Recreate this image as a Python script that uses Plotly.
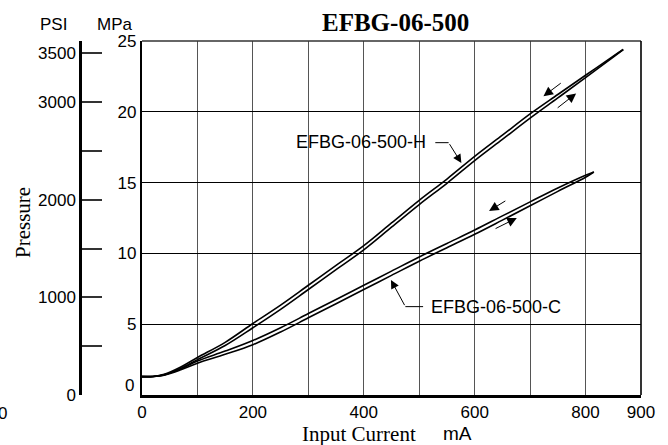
import plotly.graph_objects as go

# ---------------- data ----------------
current_H = [0, 20, 40, 70, 100, 150, 200, 250, 300, 350, 400, 450, 500, 550, 600,
             650, 700, 750, 800, 850, 868]
H_increasing = [1.30, 1.31, 1.43, 1.88, 2.50, 3.50, 4.75, 6.05, 7.45, 8.85, 10.25, 11.85,
                13.45, 14.95, 16.55, 18.05, 19.55, 20.98, 22.42, 23.87, 24.40]
H_decreasing = [1.30, 1.31, 1.46, 1.98, 2.65, 3.72, 5.05, 6.35, 7.75, 9.15, 10.55, 12.15,
                13.75, 15.25, 16.85, 18.35, 19.85, 21.22, 22.58, 23.93, 24.40]

current_C = [0, 20, 40, 70, 100, 150, 200, 250, 300, 350, 400, 450, 500, 550, 600,
             650, 700, 750, 800, 815]
C_increasing = [1.30, 1.31, 1.40, 1.78, 2.25, 2.87, 3.55, 4.45, 5.45, 6.45, 7.45, 8.45,
                9.45, 10.40, 11.35, 12.35, 13.36, 14.38, 15.38, 15.75]
C_decreasing = [1.30, 1.31, 1.42, 1.85, 2.40, 3.10, 3.85, 4.75, 5.75, 6.75, 7.75, 8.75,
                9.75, 10.70, 11.65, 12.65, 13.64, 14.62, 15.52, 15.75]

x_tick_vals = [0, 100, 200, 300, 400, 500, 600, 700, 800, 900]
x_tick_text = ["0", "", "200", "", "400", "", "600", "", "800", "900"]
mpa_tick_vals = [0, 5, 10, 15, 20, 25]
mpa_tick_text = ["", "5", "10", "15", "20", "25"]
psi_tick_vals = [0, 500, 1000, 1500, 2000, 2500, 3000, 3500]
psi_tick_text = ["0", "", "1000", "", "2000", "", "3000", "3500"]
PSI_PER_MPA = 145.038

# direction arrows: (tail_x, tail_y, head_x, head_y) in data units
direction_arrows = [
    (758, 22.1, 724, 21.1),
    (747, 20.2, 783, 21.3),
    (658, 13.77, 626, 13.0),
    (635, 11.7, 676, 12.5),
]
label_H = "EFBG-06-500-H"
label_C = "EFBG-06-500-C"
leader_H = [(529, 17.82), (553, 17.82), (576, 16.38)]
leader_C = [(507, 6.24), (475, 6.24), (449, 8.12)]

# ---------------- layout geometry ----------------
W, H = 668, 445
ML, MR, MT, MB = 60, 27, 41, 50
PW, PH = W - ML - MR, H - MT - MB


def px(x):
    return (x - ML) / PW


def py(y):
    return (H - MB - y) / PH


SANS = "Liberation Sans, Arial, sans-serif"
SERIF = "Liberation Serif, Times New Roman, serif"

fig = go.Figure()
line_style = dict(color="black", width=1.6, shape="spline", smoothing=1.0)
for name, xs, ys in [("H increasing", current_H, H_increasing),
                     ("H decreasing", current_H, H_decreasing),
                     ("C increasing", current_C, C_increasing),
                     ("C decreasing", current_C, C_decreasing)]:
    fig.add_trace(go.Scatter(x=xs, y=ys, mode="lines", name=name, line=line_style,
                             hoverinfo="skip", showlegend=False))

# leader lines (straight parts)
for pts in (leader_H, leader_C):
    fig.add_trace(go.Scatter(x=[p[0] for p in pts[:2]], y=[p[1] for p in pts[:2]],
                             mode="lines", line=dict(color="black", width=1),
                             hoverinfo="skip", showlegend=False))

# dummy trace for PSI axis
fig.add_trace(go.Scatter(x=[None], y=[None], yaxis="y2", showlegend=False))

annotations = []
for tx, ty, hx, hy in direction_arrows:
    annotations.append(dict(x=hx, y=hy, ax=tx, ay=ty, xref="x", yref="y",
                            axref="x", ayref="y", showarrow=True, text="",
                            arrowhead=2, arrowsize=1.9, arrowwidth=1,
                            arrowcolor="black"))
for pts in (leader_H, leader_C):
    annotations.append(dict(x=pts[2][0], y=pts[2][1], ax=pts[1][0], ay=pts[1][1],
                            xref="x", yref="y", axref="x", ayref="y",
                            showarrow=True, text="", arrowhead=2, arrowsize=1.7,
                            arrowwidth=1, arrowcolor="black"))

annotations += [
    dict(text=label_H, x=leader_H[0][0] - 14, y=leader_H[0][1] + 0.05, xref="x", yref="y",
         xanchor="right", yanchor="middle", showarrow=False,
         font=dict(family=SANS, size=18, color="black")),
    dict(text=label_C, x=leader_C[0][0] + 11, y=leader_C[0][1], xref="x", yref="y",
         xanchor="left", yanchor="middle", showarrow=False,
         font=dict(family=SANS, size=18, color="black")),
    dict(text="<b>EFBG-06-500</b>", x=px(395), y=py(22), xref="paper", yref="paper",
         showarrow=False, xanchor="center", yanchor="middle",
         font=dict(family=SERIF, size=25, color="black")),
    dict(text="PSI", x=px(53), y=py(24), xref="paper", yref="paper", showarrow=False,
         xanchor="center", yanchor="middle", font=dict(family=SANS, size=17, color="black")),
    dict(text="MPa", x=px(115), y=py(24), xref="paper", yref="paper", showarrow=False,
         xanchor="center", yanchor="middle", font=dict(family=SANS, size=17, color="black")),
    dict(text="Pressure", x=px(23), y=py(223), xref="paper", yref="paper", showarrow=False,
         textangle=-90, xanchor="center", yanchor="middle",
         font=dict(family=SERIF, size=21, color="black")),
    dict(text="Input Current", x=px(300), y=py(433.5), xref="paper", yref="paper",
         showarrow=False, xanchor="left", yanchor="middle",
         font=dict(family=SERIF, size=21, color="black")),
    dict(text="mA", x=px(441), y=py(433.5), xref="paper", yref="paper", showarrow=False,
         xanchor="left", yanchor="middle", font=dict(family=SANS, size=19, color="black")),
    dict(text="0", x=px(2), y=py(413), xref="paper", yref="paper", showarrow=False,
         xanchor="center", yanchor="middle", font=dict(family=SANS, size=17, color="black")),
    dict(text="0", x=px(136), y=py(385), xref="paper", yref="paper", showarrow=False,
         xanchor="right", yanchor="middle", font=dict(family=SANS, size=17, color="black")),
]

shapes = [
    dict(type="line", xref="x domain", yref="y domain", x0=0, x1=1, y0=1, y1=1,
         line=dict(color="#333", width=1.3)),
    dict(type="line", xref="x domain", yref="y domain", x0=1, x1=1, y0=0, y1=1,
         line=dict(color="black", width=1.6)),
]

fig.update_layout(
    width=W, height=H,
    margin=dict(l=ML, r=MR, t=MT, b=MB, pad=0),
    paper_bgcolor="white", plot_bgcolor="white",
    showlegend=False,
    font=dict(family=SANS, size=17, color="black"),
    xaxis=dict(domain=[px(142), 1], range=[0, 900], tickvals=x_tick_vals,
               ticktext=x_tick_text, showgrid=True, gridcolor="#555", gridwidth=1.2,
               showline=True, linecolor="black", linewidth=2.5, ticks="",
               zeroline=False, tickfont=dict(family=SANS, size=17)),
    yaxis=dict(range=[0, 25], tickvals=mpa_tick_vals, ticktext=mpa_tick_text,
               showgrid=True, gridcolor="black", gridwidth=1.2, showline=True,
               linecolor="black", linewidth=2.2, ticks="", zeroline=False,
               tickfont=dict(family=SANS, size=17)),
    yaxis2=dict(range=[0, 25 * PSI_PER_MPA], overlaying="y", anchor="free",
                position=px(80), side="left", tickvals=psi_tick_vals,
                ticktext=psi_tick_text, ticks="inside", ticklen=20, tickwidth=1.5,
                tickcolor="#333", showgrid=False, zeroline=False, showline=True,
                linecolor="black", linewidth=2.5, tickfont=dict(family=SANS, size=17)),
    annotations=annotations,
    shapes=shapes,
)

fig.write_html("out.html", config={"displayModeBar": False},
               post_script="document.body.style.margin='0';document.body.style.overflow='hidden';")
